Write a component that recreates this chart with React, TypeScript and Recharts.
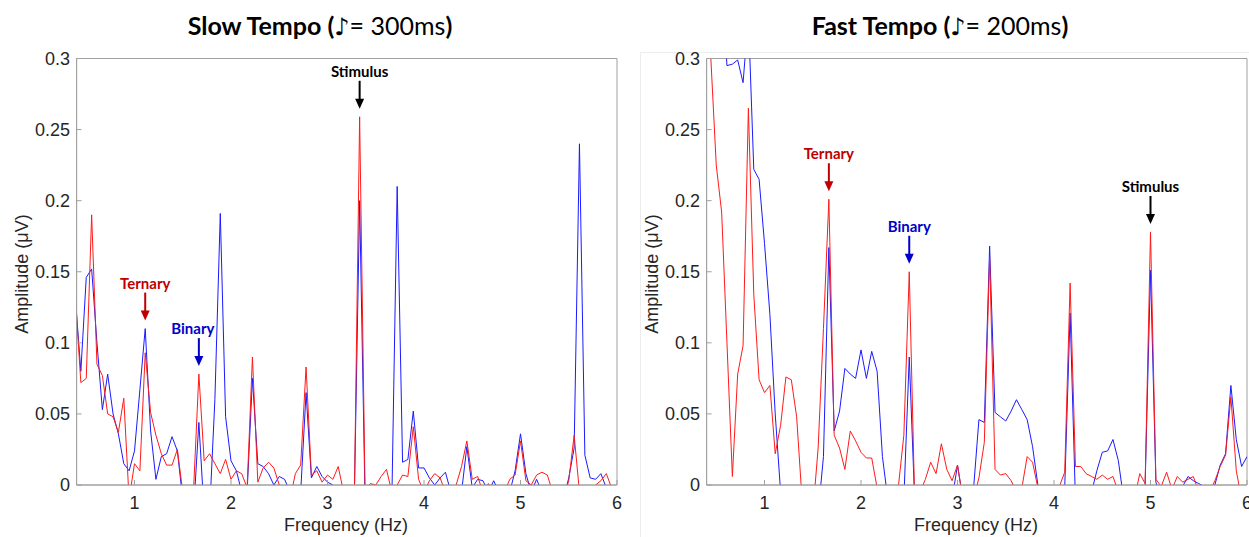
import React from 'react';
import { LineChart, Line, XAxis, YAxis, ReferenceArea, ReferenceDot } from 'recharts';

// frequency bins (Hz), k/18 for k = 7..108
const freqs = [
  0.389, 0.444, 0.5, 0.556, 0.611, 0.667,
  0.722, 0.778, 0.833, 0.889, 0.944, 1.0,
  1.056, 1.111, 1.167, 1.222, 1.278, 1.333,
  1.389, 1.444, 1.5, 1.556, 1.611, 1.667,
  1.722, 1.778, 1.833, 1.889, 1.944, 2.0,
  2.056, 2.111, 2.167, 2.222, 2.278, 2.333,
  2.389, 2.444, 2.5, 2.556, 2.611, 2.667,
  2.722, 2.778, 2.833, 2.889, 2.944, 3.0,
  3.056, 3.111, 3.167, 3.222, 3.278, 3.333,
  3.389, 3.444, 3.5, 3.556, 3.611, 3.667,
  3.722, 3.778, 3.833, 3.889, 3.944, 4.0,
  4.056, 4.111, 4.167, 4.222, 4.278, 4.333,
  4.389, 4.444, 4.5, 4.556, 4.611, 4.667,
  4.722, 4.778, 4.833, 4.889, 4.944, 5.0,
  5.056, 5.111, 5.167, 5.222, 5.278, 5.333,
  5.389, 5.444, 5.5, 5.556, 5.611, 5.667,
  5.722, 5.778, 5.833, 5.889, 5.944, 6.0,
];

// slow tempo (300 ms)
const slowRed = [
  0.13, 0.072, 0.075, 0.19, 0.085, 0.077,
  0.05, 0.048, 0.037, 0.061, -0.01, 0.015,
  0.01, 0.093, 0.051, 0.035, 0.022, 0.014,
  0.014, 0.025, -0.005, -0.01, -0.005, 0.078,
  0.017, 0.022, 0.015, 0.008, 0.018, 0.004,
  0.01, 0.008, -0.002, 0.09, 0.002, 0.012,
  0.016, 0.012, 0.0, -0.005, -0.01, 0.008,
  0.014, 0.083, 0.007, 0.01, 0.002, 0.007,
  0.004, 0.013, -0.005, -0.01, -0.01, 0.259,
  -0.003, 0.001, 0.0, 0.006, 0.011, -0.005,
  0.0, 0.007, 0.006, 0.041, 0.004, -0.005,
  0.003, 0.008, 0.005, -0.005, -0.01, 0.0,
  0.013, 0.031, 0.004, 0.006, -0.005, 0.001,
  -0.01, -0.01, -0.005, 0.004, 0.007, 0.031,
  0.003, 0.0, 0.007, 0.009, 0.007, -0.005,
  -0.01, -0.01, 0.003, 0.035, -0.005, -0.01,
  -0.01, 0.0, 0.003, 0.008, -0.002, -0.005,
];

const slowBlue = [
  0.13, 0.08, 0.146, 0.152, 0.1, 0.053,
  0.078, 0.05, 0.036, 0.015, 0.01, 0.024,
  0.067, 0.11, 0.038, 0.004, 0.02, 0.022,
  0.034, 0.024, -0.01, -0.02, -0.02, 0.044,
  -0.02, -0.02, 0.06, 0.191, 0.048, 0.017,
  0.01, -0.005, -0.005, 0.075, 0.015, 0.013,
  0.008, 0.0, 0.006, 0.004, -0.005, -0.01,
  -0.005, 0.065, 0.005, 0.013, 0.006, 0.002,
  0.0, -0.005, -0.01, -0.01, -0.01, 0.2,
  -0.01, -0.01, -0.01, -0.01, -0.01, -0.01,
  0.21, 0.016, 0.018, 0.052, 0.012, 0.012,
  0.005, 0.0, 0.005, 0.009, -0.005, -0.01,
  -0.005, 0.027, -0.002, 0.004, 0.003, -0.005,
  0.003, -0.005, -0.01, -0.005, 0.01, 0.036,
  0.008, -0.005, 0.004, -0.005, -0.01, -0.01,
  -0.01, -0.01, 0.005, 0.026, 0.24, 0.021,
  0.005, 0.004, 0.008, -0.002, -0.005, 0.0,
];

// fast tempo (200 ms)
const fastRed = [
  0.38, 0.3, 0.225, 0.192, 0.1, 0.006,
  0.078, 0.098, 0.265, 0.134, 0.074, 0.065,
  0.07, 0.022, 0.042, 0.076, 0.074, 0.048,
  -0.01, -0.03, -0.02, 0.026, 0.11, 0.201,
  0.035, 0.026, 0.011, 0.038, 0.031, 0.023,
  0.019, 0.019, -0.002, -0.01, -0.01, -0.01,
  0.0, 0.035, 0.15, -0.01, -0.005, 0.004,
  0.016, 0.008, 0.029, 0.011, 0.003, 0.014,
  -0.01, -0.01, -0.01, 0.005, 0.03, 0.16,
  0.011, 0.007, 0.008, 0.003, -0.005, -0.002,
  0.02, 0.016, -0.002, -0.01, -0.01, -0.005,
  -0.001, 0.009, 0.142, 0.013, 0.013, 0.008,
  0.006, 0.004, 0.007, 0.004, 0.006, -0.005,
  -0.01, -0.01, -0.01, 0.008, 0.001, 0.178,
  0.004, -0.001, 0.009, -0.003, 0.006, 0.002,
  0.004, 0.006, -0.005, -0.01, -0.005, 0.003,
  0.013, 0.021, 0.062, 0.01, -0.01, -0.02,
];

const fastBlue = [
  0.45, 0.42, 0.4, 0.36, 0.295, 0.296,
  0.299, 0.283, 0.33, 0.222, 0.215, 0.17,
  0.12, 0.05, -0.005, -0.03, -0.03, -0.03,
  -0.03, -0.03, -0.03, -0.02, 0.02, 0.167,
  0.038, 0.052, 0.082, 0.078, 0.075, 0.095,
  0.075, 0.094, 0.08, 0.02, -0.01, -0.02,
  -0.02, -0.01, 0.09, -0.01, -0.02, -0.02,
  -0.02, -0.02, -0.02, -0.02, -0.01, 0.014,
  -0.01, -0.01, -0.002, 0.046, 0.044, 0.168,
  0.051, 0.048, 0.045, 0.052, 0.06, 0.053,
  0.046, 0.027, 0.0, -0.01, -0.01, -0.01,
  -0.01, -0.002, 0.121, -0.01, -0.01, -0.01,
  -0.005, 0.01, 0.023, 0.024, 0.032, 0.017,
  -0.01, -0.01, -0.01, -0.01, -0.001, 0.151,
  0.002, -0.01, -0.01, -0.01, -0.005, -0.001,
  0.006, 0.003, 0.001, -0.001, -0.002, 0.0,
  0.014, 0.022, 0.07, 0.032, 0.013, 0.02,
];

const xTicks = [1, 2, 3, 4, 5, 6];
const yTicks = [0, 0.05, 0.1, 0.15, 0.2, 0.25, 0.3];

// annotated peaks: label, frequency bin
const slowMarks = [
  { label: 'Stimulus', f: 3.333, kind: 'stim' },
  { label: 'Ternary', f: 1.111, kind: 'ter' },
  { label: 'Binary', f: 1.667, kind: 'bin' },
];
const fastMarks = [
  { label: 'Ternary', f: 1.667, kind: 'ter' },
  { label: 'Binary', f: 2.5, kind: 'bin' },
  { label: 'Stimulus', f: 5.0, kind: 'stim' },
];

const markColors: Record<string, string> = { stim: '#000000', ter: '#c00000', bin: '#0000c8' };
const frame = '#a0a0a0';
const ink = '#262626';
const axisFont = '"Liberation Sans", Arial, sans-serif';

function Arrow(props: any) {
  const { cx, cy, label, color, dx } = props;
  const tip = cy - 8;
  return (
    <g>
      <text x={cx + dx} y={tip - 38} textAnchor="middle" dominantBaseline="central"
        fontFamily="Lato, sans-serif" fontWeight={700} fontSize={15} fill={color}>{label}</text>
      <line x1={cx} x2={cx} y1={tip - 28} y2={tip - 8} stroke={color} strokeWidth={2} />
      <path d={`M${cx - 4.5},${tip - 10} L${cx + 4.5},${tip - 10} L${cx},${tip} Z`} fill={color} />
    </g>
  );
}

function Panel({ red, blue, marks, width, marginRight }: any) {
  const rows = freqs.map((f, i) => ({ f, red: red[i], blue: blue[i] }));
  return (
    <LineChart width={width} height={537} data={rows}
      margin={{ top: 58.5, right: marginRight, bottom: 12, left: 16.6 }}>
      <XAxis dataKey="f" type="number" domain={[0.4, 6]} ticks={xTicks} allowDataOverflow
        interval={0} height={40} tickSize={-5} tickMargin={16.5} stroke={frame}
        tick={{ fill: ink, fontSize: 18, fontFamily: axisFont }} />
      <XAxis xAxisId="top" dataKey="f" orientation="top" type="number" domain={[0.4, 6]}
        ticks={xTicks} allowDataOverflow interval={0} height={0} tickSize={-5} tick={false}
        stroke={frame} />
      <YAxis type="number" domain={[0, 0.3]} ticks={yTicks} allowDataOverflow interval={0}
        width={60} tickSize={-5} tickMargin={11.6} stroke={frame}
        tick={{ fill: ink, fontSize: 18, fontFamily: axisFont }} />
      <YAxis yAxisId="right" orientation="right" type="number" domain={[0, 0.3]} ticks={yTicks}
        allowDataOverflow interval={0} width={0} tickSize={-5} tick={false} stroke={frame} />
      <ReferenceArea x1={0.4} x2={6} y1={0} y2={0.3}
        fill="none" stroke={frame} strokeWidth={1} ifOverflow="visible" />
      <ReferenceArea xAxisId="top" yAxisId="right" x1={0.4} x2={6} y1={0} y2={0.3}
        fill="none" stroke="none" ifOverflow="visible" />
      <Line type="linear" dataKey="blue" stroke="#1a1aff" strokeWidth={1} dot={false}
        isAnimationActive={false} />
      <Line type="linear" dataKey="red" stroke="#ff1a1a" strokeWidth={1} dot={false}
        isAnimationActive={false} />
      {marks.map((m: any) => {
        const i = freqs.indexOf(m.f);
        const peak = Math.max(red[i], blue[i]);
        const color = markColors[m.kind];
        return (
          <ReferenceDot key={m.label} x={m.f} y={peak} r={0} ifOverflow="visible"
            shape={(p: any) => <Arrow cx={p.cx} cy={p.cy} label={m.label} color={color}
              dx={m.kind === 'bin' && m.f < 2 ? -6 : 0} />} />
        );
      })}
    </LineChart>
  );
}

function Title({ x, name, ms }: any) {
  return (
    <div style={{ position: 'absolute', left: x - 200, top: 10, width: 400, textAlign: 'center',
      fontFamily: 'Lato, sans-serif', fontSize: 25, color: '#000', whiteSpace: 'nowrap' }}>
      <span style={{ fontWeight: 700 }}>{name} (</span>
      <span style={{ fontWeight: 700, fontFamily: '"DejaVu Sans", sans-serif', fontSize: 24 }}>♪</span>
      <span>= {ms}ms</span>
      <span style={{ fontWeight: 700 }}>)</span>
    </div>
  );
}

function AxisText({ x, y, text, vertical }: any) {
  return (
    <div style={{ position: 'absolute', left: x - 100, top: y - 12, width: 200, height: 24,
      lineHeight: '24px', textAlign: 'center', fontFamily: axisFont, fontSize: 18, color: ink,
      transform: vertical ? 'rotate(-90deg)' : undefined, whiteSpace: 'nowrap' }}>{text}</div>
  );
}

export default function App() {
  return (
    <div style={{ position: 'absolute', left: 0, top: 0, width: 1249, height: 537,
      background: '#fff', overflow: 'hidden' }}>
      <div style={{ position: 'absolute', left: 640, top: 52, width: 609, height: 485,
        borderLeft: '1px solid #ededed', borderTop: '1px solid #ededed' }} />
      <div style={{ position: 'absolute', left: 0, top: 0 }}>
        <Panel red={slowRed} blue={slowBlue} marks={slowMarks} width={640} marginRight={23} />
      </div>
      <div style={{ position: 'absolute', left: 630, top: 0 }}>
        <Panel red={fastRed} blue={fastBlue} marks={fastMarks} width={619} marginRight={2} />
      </div>
      <Title x={320} name="Slow Tempo" ms={300} />
      <Title x={940} name="Fast Tempo" ms={200} />
      <AxisText x={22} y={274} text="Amplitude (μV)" vertical />
      <AxisText x={652} y={274} text="Amplitude (μV)" vertical />
      <AxisText x={346} y={525} text="Frequency (Hz)" />
      <AxisText x={976} y={525} text="Frequency (Hz)" />
    </div>
  );
}
